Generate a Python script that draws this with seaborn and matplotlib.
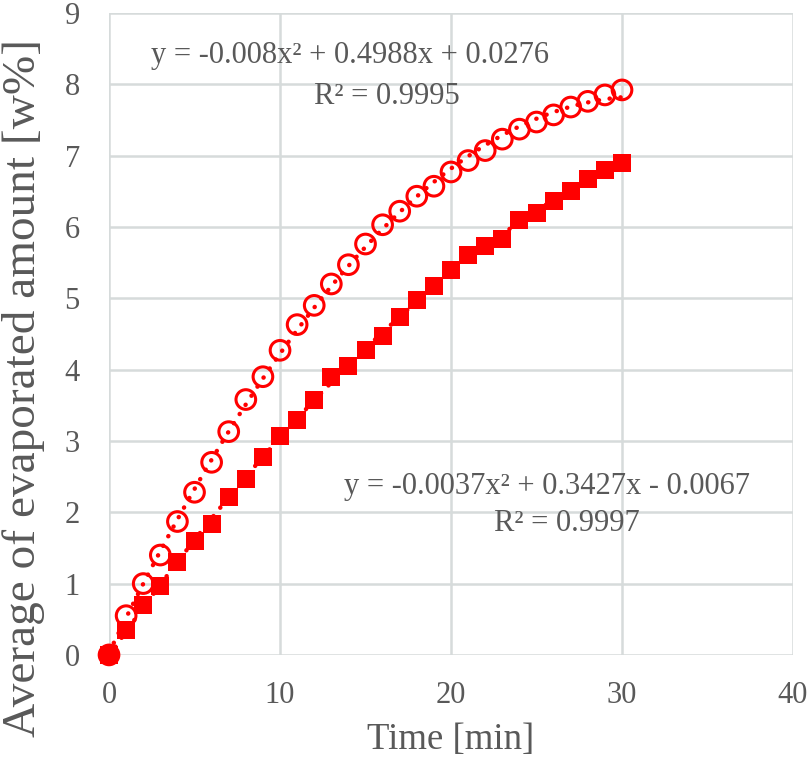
import numpy as np
import pandas as pd
import matplotlib
matplotlib.use('Agg')
import matplotlib.pyplot as plt
import seaborn as sns

time_min = list(range(0, 31))
circle_vals = [0.0, 0.55, 1.0, 1.4, 1.87, 2.28, 2.7, 3.13, 3.58, 3.9, 4.27,
               4.63, 4.9, 5.2, 5.47, 5.76, 6.03, 6.22, 6.43, 6.57, 6.77,
               6.93, 7.07, 7.23, 7.37, 7.47, 7.57, 7.68, 7.76, 7.85, 7.92]
square_vals = [0.0, 0.35, 0.7, 0.97, 1.3, 1.6, 1.83, 2.22, 2.47, 2.77, 3.07,
               3.3, 3.57, 3.9, 4.05, 4.27, 4.47, 4.73, 4.97, 5.17, 5.4,
               5.6, 5.73, 5.83, 6.1, 6.2, 6.37, 6.5, 6.67, 6.8, 6.9]
eq_circle = ['y = -0.008x² + 0.4988x + 0.0276', 'R² = 0.9995']
eq_square = ['y = -0.0037x² + 0.3427x - 0.0067', 'R² = 0.9997']

df = pd.DataFrame({'time': time_min, 'circle': circle_vals, 'square': square_vals})

sns.set_style('white')
plt.rcParams['font.family'] = ['Liberation Serif', 'DejaVu Serif']
text_color = '#595959'
red = '#FF0000'

fig, ax = plt.subplots(figsize=(8.1, 7.58), dpi=100)
fig.subplots_adjust(left=0.1346, right=0.979, top=0.983, bottom=0.136)

# 2차 추세선 (점선)
trend_kws = dict(color=red, lw=3.2, ls=(0, (0.05, 2.4)), dash_capstyle='round')
sns.regplot(x='time', y='circle', data=df, order=2, ci=None, scatter=False, ax=ax,
            line_kws=trend_kws)
sns.regplot(x='time', y='square', data=df, order=2, ci=None, scatter=False, ax=ax,
            line_kws=trend_kws)

# 데이터 점
sns.scatterplot(x='time', y='square', data=df, marker='s', s=160, color=red,
                edgecolor=red, linewidth=0, ax=ax, zorder=3, clip_on=False)
sns.scatterplot(x='time', y='circle', data=df, marker='o', s=200, facecolor='none',
                edgecolor=red, linewidth=2.2, ax=ax, zorder=4, clip_on=False)

ax.set_xlim(0, 40)
ax.set_ylim(0, 9)
ax.set_xticks(range(0, 41, 10))
ax.set_yticks(range(0, 10))
ax.grid(True, color='#D6DBDB', lw=1.8)
ax.set_axisbelow(True)
for sp in ax.spines.values():
    sp.set_visible(False)
ax.tick_params(axis='both', labelsize=22, colors=text_color, length=0)
ax.tick_params(axis='x', pad=19)
ax.tick_params(axis='y', pad=21)
ax.set_xlabel('Time [min]', fontsize=26.5, color=text_color)
ax.set_ylabel('Average of evaporated amount [w%]', fontsize=34, color=text_color)
ax.xaxis.set_label_coords(0.5, -0.105)
ax.yaxis.set_label_coords(-0.093, 0.416)

ax.text(14.1, 8.4, eq_circle[0], fontsize=22, color=text_color, ha='center', va='center')
ax.text(16.25, 7.83, eq_circle[1], fontsize=22, color=text_color, ha='center', va='center')
ax.text(25.6, 2.36, eq_square[0], fontsize=22, color=text_color, ha='center', va='center')
ax.text(26.8, 1.84, eq_square[1], fontsize=22, color=text_color, ha='center', va='center')

fig.savefig('out.png', dpi=100)
